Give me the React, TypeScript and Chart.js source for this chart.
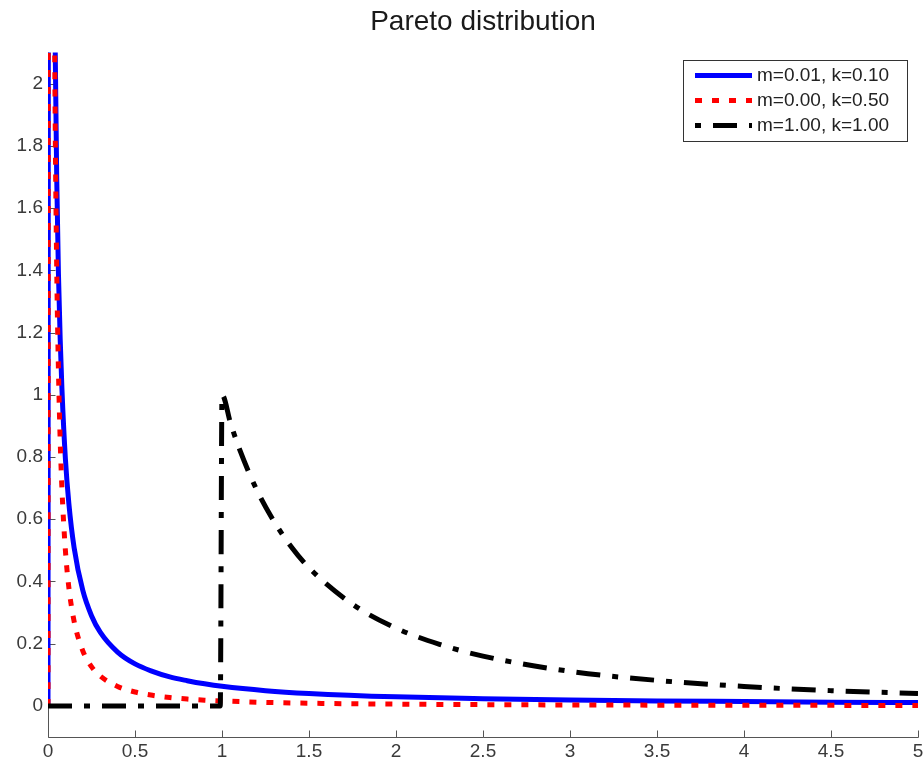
import React, { useEffect, useRef } from "react";
import { Chart, registerables } from "chart.js";

Chart.register(...registerables);

const titleText = "Pareto distribution";
const seriesLabels = ["m=0.01, k=0.10", "m=0.00, k=0.50", "m=1.00, k=1.00"];
const seriesColors = ["#0000ff", "#ff0000", "#000000"];

const xValues = [0, 0.01, 0.02, 0.03, 0.04, 0.05, 0.06, 0.07, 0.08, 0.1, 0.12, 0.15, 0.2, 0.25, 0.3, 0.4, 0.5, 0.6, 0.7, 0.8, 0.9, 1, 1.25, 1.5, 2, 2.5, 3, 3.5, 4, 4.5, 5];
const blueValues = [0, 10.0, 4.67, 2.99, 2.18, 1.7, 1.39, 1.18, 1.02, 0.794, 0.65, 0.509, 0.371, 0.29, 0.237, 0.173, 0.135, 0.111, 0.093, 0.081, 0.071, 0.063, 0.049, 0.04, 0.029, 0.023, 0.019, 0.016, 0.014, 0.012, 0.011];
const redValues = [0, 15.8, 5.59, 3.04, 1.98, 1.41, 1.08, 0.854, 0.699, 0.5, 0.38, 0.272, 0.177, 0.126, 0.096, 0.0625, 0.0447, 0.034, 0.027, 0.022, 0.0185, 0.0158, 0.0113, 0.0086, 0.0056, 0.004, 0.003, 0.0024, 0.002, 0.0017, 0.0014];

const blackX = [0, 0.99, 1, 1.05, 1.1, 1.2, 1.3, 1.4, 1.5, 1.75, 2, 2.25, 2.5, 3, 3.5, 4, 4.5, 5];
const blackValues = [0, 0, 1, 0.907, 0.826, 0.694, 0.592, 0.51, 0.444, 0.327, 0.25, 0.198, 0.16, 0.111, 0.082, 0.0625, 0.049, 0.04];

const xTicks = [0, 0.5, 1, 1.5, 2, 2.5, 3, 3.5, 4, 4.5, 5];
const xTickLabels = ["0", "0.5", "1", "1.5", "2", "2.5", "3", "3.5", "4", "4.5", "5"];
const yTicks = [0, 0.2, 0.4, 0.6, 0.8, 1, 1.2, 1.4, 1.6, 1.8, 2];
const yTickLabels = ["0", "0.2", "0.4", "0.6", "0.8", "1", "1.2", "1.4", "1.6", "1.8", "2"];
const xRange = [0, 5];
const yRange = [-0.1, 2.1];

const FONT = "'Liberation Sans', Arial, Helvetica, sans-serif";
const dashes = [[], [7, 10], [24, 12, 6, 12]];

const axesPlugin = {
  id: "inwardAxes",
  beforeDatasetsDraw(chart: any) {
    const { ctx, chartArea: a, scales } = chart;
    const x = scales.x;
    const y = scales.y;
    ctx.save();
    ctx.strokeStyle = "#555555";
    ctx.lineWidth = 1;
    ctx.beginPath();
    const left = Math.round(a.left) + 0.5;
    const bottom = Math.round(a.bottom) + 0.5;
    ctx.moveTo(left, a.top);
    ctx.lineTo(left, bottom);
    ctx.lineTo(Math.round(a.right) + 0.5, bottom);
    xTicks.forEach((v) => {
      const px = Math.round(x.getPixelForValue(v)) + 0.5;
      ctx.moveTo(px, bottom);
      ctx.lineTo(px, bottom - 7);
    });
    yTicks.forEach((v) => {
      const py = Math.round(y.getPixelForValue(v)) + 0.5;
      ctx.moveTo(left, py);
      ctx.lineTo(left + 7, py);
    });
    ctx.stroke();
    ctx.restore();
  },
};

const legendPlugin = {
  id: "boxLegend",
  afterDraw(chart: any) {
    const { ctx, chartArea: a } = chart;
    const boxRight = a.right - 11;
    const boxLeft = boxRight - 224;
    const boxTop = a.top + 7;
    const boxH = 81;
    ctx.save();
    ctx.fillStyle = "#ffffff";
    ctx.fillRect(boxLeft, boxTop, boxRight - boxLeft, boxH);
    ctx.strokeStyle = "#333333";
    ctx.lineWidth = 1;
    ctx.strokeRect(Math.round(boxLeft) + 0.5, Math.round(boxTop) + 0.5, Math.round(boxRight - boxLeft), boxH);
    seriesLabels.forEach((label, i) => {
      const yy = boxTop + 16 + i * 25;
      ctx.beginPath();
      ctx.strokeStyle = seriesColors[i];
      ctx.lineWidth = 5;
      ctx.lineCap = "butt";
      ctx.setLineDash(dashes[i]);
      ctx.lineDashOffset = i === 2 ? 36 : 0;
      ctx.moveTo(boxLeft + 12, yy);
      ctx.lineTo(boxLeft + 69, yy);
      ctx.stroke();
      ctx.setLineDash([]);
      ctx.fillStyle = "#222222";
      ctx.font = `19px ${FONT}`;
      ctx.textBaseline = "middle";
      ctx.textAlign = "left";
      ctx.fillText(label, boxLeft + 74, yy);
    });
    ctx.restore();
  },
};

export default function App() {
  const canvasRef = useRef<HTMLCanvasElement | null>(null);

  useEffect(() => {
    const canvas = canvasRef.current;
    if (!canvas) return;
    const mk = (xs: number[], ys: number[]) => xs.map((xv, i) => ({ x: xv, y: ys[i] }));
    const chart = new Chart(canvas, {
      type: "line",
      data: {
        datasets: [
          {
            label: seriesLabels[0],
            data: mk(xValues, blueValues),
            borderColor: seriesColors[0],
            borderWidth: 5,
            pointRadius: 0,
            cubicInterpolationMode: "monotone",
            fill: false,
            order: 3,
          },
          {
            label: seriesLabels[1],
            data: mk(xValues, redValues),
            borderColor: seriesColors[1],
            borderWidth: 5,
            borderDash: dashes[1],
            borderCapStyle: "butt",
            pointRadius: 0,
            cubicInterpolationMode: "monotone",
            fill: false,
            order: 2,
          },
          {
            label: seriesLabels[2],
            data: mk(blackX, blackValues),
            borderColor: seriesColors[2],
            borderWidth: 5,
            borderDash: dashes[2],
            borderCapStyle: "butt",
            pointRadius: 0,
            cubicInterpolationMode: "monotone",
            fill: false,
            order: 1,
          },
        ],
      },
      options: {
        animation: false,
        responsive: false,
        maintainAspectRatio: false,
        parsing: false as any,
        layout: { padding: { left: 0, right: 5, top: 0, bottom: 0 } },
        plugins: {
          legend: { display: false },
          tooltip: { enabled: false },
          title: {
            display: true,
            text: titleText,
            fullSize: false,
            color: "#1a1a1a",
            font: { family: FONT, size: 28, weight: "normal" as any },
            padding: { top: 5, bottom: 14 },
          },
        },
        scales: {
          x: {
            type: "linear",
            min: xRange[0],
            max: xRange[1],
            grid: { display: false, drawTicks: false },
            border: { display: false },
            afterBuildTicks: (scale: any) => {
              scale.ticks = xTicks.map((v) => ({ value: v }));
            },
            afterFit: (scale: any) => {
              scale.height = 27;
              scale.paddingLeft = 0;
              scale.paddingRight = 0;
            },
            ticks: {
              autoSkip: false,
              maxRotation: 0,
              padding: 3,
              color: "#3a3a3a",
              font: { family: FONT, size: 19 },
              callback: (_v: any, i: number) => xTickLabels[i],
            },
          },
          y: {
            type: "linear",
            min: yRange[0],
            max: yRange[1],
            grid: { display: false, drawTicks: false },
            border: { display: false },
            afterBuildTicks: (scale: any) => {
              scale.ticks = yTicks.map((v) => ({ value: v }));
            },
            afterFit: (scale: any) => {
              scale.width = 48;
              scale.paddingTop = 0;
              scale.paddingBottom = 0;
            },
            ticks: {
              autoSkip: false,
              padding: 5,
              color: "#3a3a3a",
              font: { family: FONT, size: 19 },
              callback: (_v: any, i: number) => yTickLabels[i],
            },
          },
        },
      },
      plugins: [axesPlugin, legendPlugin],
    });
    return () => chart.destroy();
  }, []);

  return (
    <div style={{ position: "absolute", left: 0, top: 0, width: 923, height: 764, background: "#ffffff" }}>
      <canvas ref={canvasRef} width={923} height={764} />
    </div>
  );
}
